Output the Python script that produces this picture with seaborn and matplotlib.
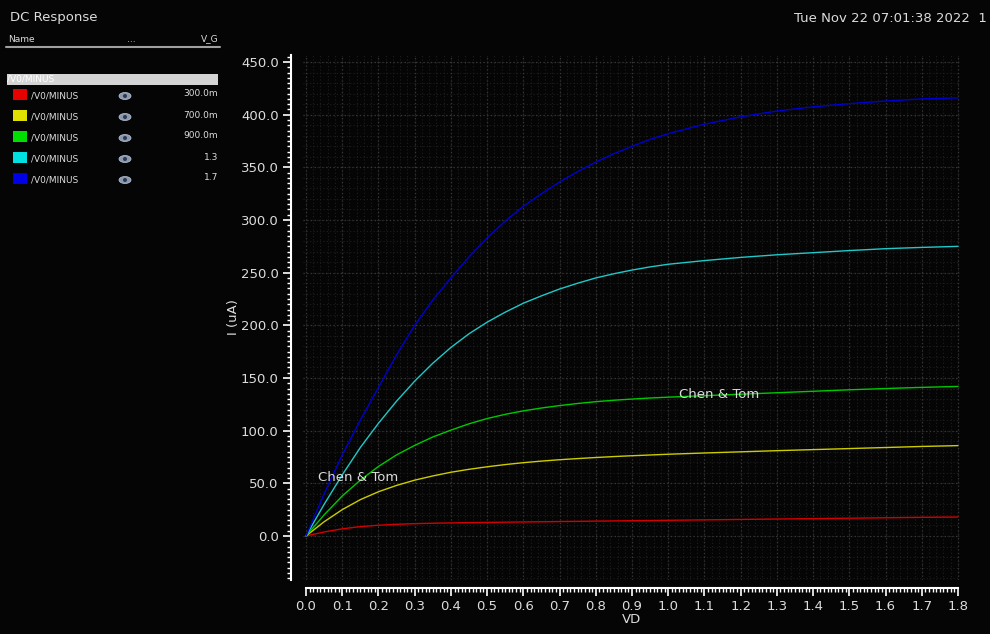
import numpy as np
import pandas as pd
import matplotlib
matplotlib.use('Agg')
import matplotlib.pyplot as plt
import seaborn as sns
from matplotlib.patches import Rectangle, Ellipse
from matplotlib.ticker import MultipleLocator, FormatStrFormatter

# values (VD in V, I in uA)
vd = [0.0, 0.05, 0.1, 0.15, 0.2, 0.25, 0.3, 0.35, 0.4, 0.45, 0.5, 0.55,
      0.6, 0.65, 0.7, 0.75, 0.8, 0.85, 0.9, 0.95,
      1.0, 1.1, 1.2, 1.3, 1.4, 1.5, 1.6, 1.7, 1.8]
i_300m = [0, 3.8, 6.8, 8.9, 10.2, 11.1, 11.7, 12.1, 12.4, 12.7, 12.9, 13.1,
          13.3, 13.5, 13.7, 13.9, 14.1, 14.3, 14.5, 14.7,
          14.9, 15.3, 15.7, 16.1, 16.5, 16.9, 17.3, 17.7, 18]
i_700m = [0, 13.5, 25, 34.5, 42, 48, 53, 57, 60.5, 63.3, 65.7, 67.8,
          69.6, 71.1, 72.4, 73.5, 74.5, 75.4, 76.2, 76.9,
          77.6, 78.8, 79.9, 81, 82, 83, 84, 85, 85.8]
i_900m = [0, 20, 38, 53, 66, 77, 86, 94, 100.5, 106.5, 111.5, 115.5,
          118.8, 121.5, 123.8, 125.8, 127.5, 128.9, 130, 131,
          131.8, 133.2, 134.6, 136, 137.4, 138.8, 140, 141.1, 142]
i_1p3 = [0, 30, 58, 84, 107, 128, 147, 164, 179, 192, 203, 212.5,
         221, 228, 234.5, 240, 245, 249, 252.5, 255.5,
         258, 261.5, 264.5, 267, 269, 271, 272.8, 274, 275]
i_1p7 = [0, 40, 77, 110, 141, 172, 200, 224, 245, 265, 283, 299,
         313, 325, 336, 346, 355, 363, 370, 376.5,
         382, 391, 398, 403.5, 407.5, 410.5, 413, 415, 416]

vg_labels = ['300.0m', '700.0m', '900.0m', '1.3', '1.7']
line_colors = ['#d40000', '#cccc00', '#00c800', '#20c8c8', '#0000d0']
box_colors = ['#e60000', '#e0e000', '#00e000', '#00e0e0', '#0000e6']

df = pd.concat([
    pd.DataFrame({'VD': vd, 'I': vals, 'V_G': lab})
    for vals, lab in zip([i_300m, i_700m, i_900m, i_1p3, i_1p7], vg_labels)
], ignore_index=True)

sns.set_style('dark')
plt.rcParams['font.family'] = ['DejaVu Sans']
bg = '#050505'
txt = '#dcdcdc'

fig = plt.figure(figsize=(9.9, 6.34), dpi=100, facecolor=bg)
ax = fig.add_axes([303 / 990, 1 - 580 / 634, 657 / 990, 525 / 634])
ax.set_facecolor(bg)

# faint fine grid
for xv in np.arange(0, 1.81, 0.02):
    ax.axvline(xv, color='#1e1e1e', lw=0.8, ls=(0, (1, 2)), zorder=0)
for yv in np.arange(-40, 451, 10):
    ax.axhline(yv, color='#1e1e1e', lw=0.8, ls=(0, (1, 2)), zorder=0)

sns.lineplot(data=df, x='VD', y='I', hue='V_G', palette=line_colors,
             linewidth=1.0, legend=False, ax=ax, zorder=3)

ax.set_xlim(-0.0083, 1.8056)
ax.set_ylim(-41.8, 456.7)
ax.xaxis.set_major_locator(MultipleLocator(0.1))
ax.xaxis.set_minor_locator(MultipleLocator(0.01))
ax.yaxis.set_major_locator(MultipleLocator(50))
ax.yaxis.set_minor_locator(MultipleLocator(5))
ax.xaxis.set_major_formatter(FormatStrFormatter('%.1f'))
ax.yaxis.set_major_formatter(FormatStrFormatter('%.1f'))
ax.grid(True, which='major', color='#363636', lw=0.9, ls=(0, (1, 2)), zorder=1)
ax.grid(False, which='minor')

for s in ['top', 'right']:
    ax.spines[s].set_visible(False)
ax.spines['left'].set_position(('outward', 9))
ax.spines['bottom'].set_position(('outward', 6))
ax.spines['bottom'].set_bounds(0, 1.8)
for s in ['left', 'bottom']:
    ax.spines[s].set_color('white')
    ax.spines[s].set_linewidth(1.5)
    ax.spines[s].set_visible(True)
ax.tick_params(which='major', colors='white', length=5.5, width=1.2,
               labelcolor=txt, labelsize=9.5, pad=3, left=True, bottom=True)
ax.tick_params(which='minor', colors='white', length=3, width=1,
               left=True, bottom=True)

ax.set_xlabel('VD', color=txt, fontsize=9.5)
ax.set_ylabel('I (uA)', color=txt, fontsize=9.5)
ax.yaxis.set_label_coords(-0.096, 0.5)
ax.xaxis.set_label_coords(0.5, -0.063)

ax.text(0.033, 56, 'Chen & Tom', color=txt, fontsize=9.5, va='center', zorder=5)
ax.text(1.03, 134.5, 'Chen & Tom', color=txt, fontsize=9.5, va='center', zorder=5)

# overlay for the side panel and header
ov = fig.add_axes([0, 0, 1, 1], zorder=10)
ov.set_xlim(0, 990)
ov.set_ylim(634, 0)
ov.axis('off')
ov.patch.set_alpha(0)

ov.text(10, 18, 'DC Response', color=txt, fontsize=9.5, va='center')
ov.text(987, 18, 'Tue Nov 22 07:01:38 2022  1', color=txt, fontsize=9.5,
        va='center', ha='right')
ov.text(8, 39, 'Name', color=txt, fontsize=6.5, va='center')
ov.text(131, 39, '...', color=txt, fontsize=6.5, va='center', ha='center')
ov.text(219, 39, 'V_G', color=txt, fontsize=6.5, va='center', ha='right')
ov.plot([6, 220], [46.5, 46.5], color='#a0a0a0', lw=1.5)

ov.add_patch(Rectangle((7, 74), 211, 11, facecolor='#d4d4d4', edgecolor='none'))
ov.text(7, 79.5, '/V0/MINUS', color='white', fontsize=6.5, va='center')

for k, (c, lab) in enumerate(zip(box_colors, vg_labels)):
    yy = 95 + k * 21
    ov.add_patch(Rectangle((13, yy - 6), 14, 11, facecolor=c, edgecolor='none'))
    ov.text(31, yy + 1, '/V0/MINUS', color=txt, fontsize=6.5, va='center')
    ov.add_patch(Ellipse((125, yy + 1), 12, 7, facecolor='#8898b0', edgecolor='#c0c8d8', lw=0.5))
    ov.add_patch(Ellipse((125, yy + 1), 4, 4, facecolor='#303850', edgecolor='none'))
    ov.text(218, yy - 1, lab, color=txt, fontsize=6.5, va='center', ha='right')

fig.savefig('out.png', dpi=100, facecolor=bg)
